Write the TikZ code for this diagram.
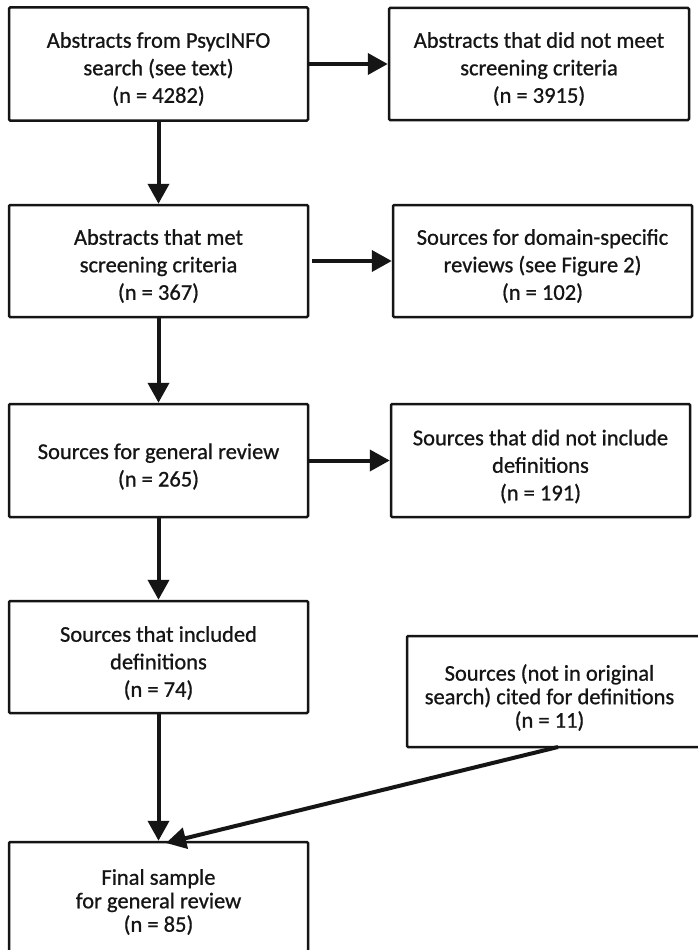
\documentclass[tikz,border=0pt]{standalone}
\usepackage{fontspec}
\setmainfont{Carlito}[FakeBold=0.8]
\usetikzlibrary{arrows.meta}
\definecolor{ink}{HTML}{151515}
\tikzset{
  box/.style={draw=ink, line width=2.5pt, rounded corners=1.2pt, inner sep=0pt},
  txt/.style={align=center, inner sep=0pt, text=ink, font=\fontsize{22.5}{27.5}\selectfont},
  lowtxt/.style={txt, font=\fontsize{22.5}{23.5}\selectfont},
  arr/.style={draw=ink, line width=4pt, -{Triangle[length=20pt,width=21pt]}}
}
\begin{document}
\begin{tikzpicture}[x=1pt,y=-1pt]
\useasboundingbox (0,0) rectangle (697,950);
\fill[white] (0,0) rectangle (697,950);
\node[box, minimum width=299pt, minimum height=113pt] (b1) at (158.5,64) {};
\node[box, minimum width=300pt, minimum height=112pt] (b2) at (539,64) {};
\node[box, minimum width=299pt, minimum height=112pt] (b3) at (158.5,261) {};
\node[box, minimum width=299pt, minimum height=112pt] (b4) at (542.5,261) {};
\node[box, minimum width=299pt, minimum height=113pt] (b5) at (158.5,460.5) {};
\node[box, minimum width=299pt, minimum height=113pt] (b6) at (540.5,460.5) {};
\node[box, minimum width=299pt, minimum height=112pt] (b7) at (158.5,657) {};
\node[box, minimum width=295pt, minimum height=111pt] (b8) at (554.5,691.5) {};
\node[box, minimum width=299pt, minimum height=120pt] (b9) at (158.5,902) {};
\node[txt] (t1) at ([yshift=-5pt]b1.center) {Abstracts from PsycINFO\\search (see text)\\(n = 4282)};
\node[txt] (t2) at ([yshift=-5pt]b2.center) {Abstracts that did not meet\\screening criteria\\(n = 3915)};
\node[txt] (t3) at ([yshift=-5pt]b3.center) {Abstracts that met\\screening criteria\\(n = 367)};
\node[txt] (t4) at ([yshift=-5pt]b4.center) {Sources for domain-specific\\reviews (see Figure 2)\\(n = 102)};
\node[txt] (t5) at ([yshift=-6pt]b5.center) {Sources for general review\\(n = 265)};
\node[txt] (t6) at ([yshift=-6pt]b6.center) {Sources that did not include\\definitions\\(n = 191)};
\node[txt] (t7) at ([yshift=-6pt]b7.center) {Sources that included\\definitions\\(n = 74)};
\node[lowtxt] (t8) at ([xshift=-5pt,yshift=-6pt]b8.center) {Sources (not in original\\search) cited for definitions\\(n = 11)};
\node[lowtxt] (t9) at (b9.center) {Final sample\\for general review\\(n = 85)};
\coordinate (d1) at (558,747);
\coordinate (d2) at (166,843);
\draw[arr] (b1.east) -- (b2.west);
\draw[arr] (b3.east) ++(3,0) -- (b4.west);
\draw[arr] (b5.east) -- (b6.west);
\draw[arr] (b1.south) -- (b3.north);
\draw[arr] (b3.south) -- (b5.north);
\draw[arr] (b5.south) -- (b7.north);
\draw[arr] (b7.south) -- (b9.north);
\draw[arr] (d1) -- (d2);
\end{tikzpicture}
\end{document}
